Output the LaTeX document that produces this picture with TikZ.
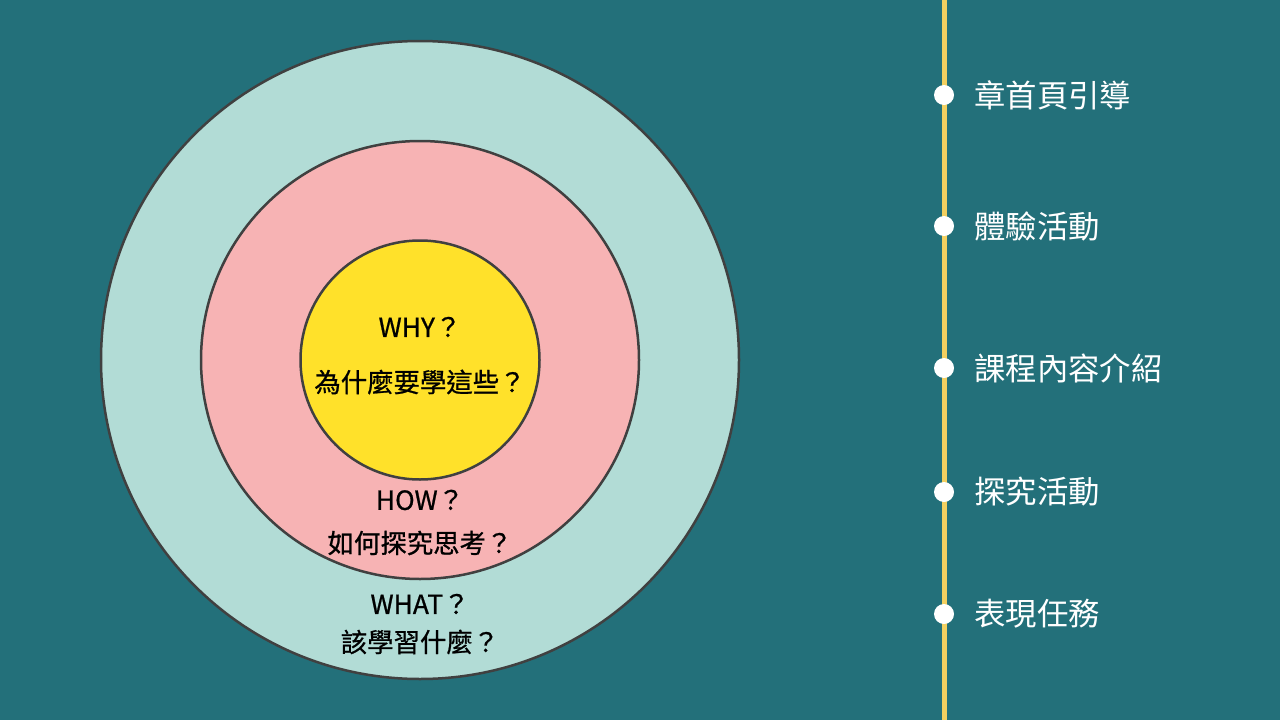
\documentclass[tikz,border=0pt]{standalone}
\usepackage{fontspec}
\setmainfont{Noto Sans CJK TC}
\newfontfamily\lblfont[FakeBold=0.8]{Noto Sans CJK TC}
\definecolor{bg}{HTML}{23707A}
\definecolor{outerc}{HTML}{B2DCD6}
\definecolor{midc}{HTML}{F7B3B4}
\definecolor{innc}{HTML}{FFE12A}
\definecolor{edgec}{HTML}{404040}
\definecolor{linec}{HTML}{F3D060}
\tikzset{
  ring/.style={circle, draw=edgec, line width=2.5pt, inner sep=0pt},
  lbl/.style={font=\lblfont\fontsize{26.4}{30}\selectfont, text=black, inner sep=0pt},
  item/.style={font=\fontsize{31.4}{36}\selectfont, text=white, anchor=west, inner sep=0pt},
  dot/.style={circle, fill=white, minimum size=20pt, inner sep=0pt},
}
\begin{document}
\begin{tikzpicture}[x=1pt,y=-1pt]
\fill[bg] (0,0) rectangle (1280,720);
\useasboundingbox (0,0) rectangle (1280,720);
\node[ring, fill=outerc, minimum size=638pt] (outer) at (420,360) {};
\node[ring, fill=midc, minimum size=438pt] (mid) at (420,360) {};
\node[ring, fill=innc, minimum size=239pt] (inn) at (420,360) {};
\node[lbl] (why) at (420,327) {WHY？};
\node[lbl] (whyq) at (420,382) {為什麼要學這些？};
\node[lbl] (how) at (420,500) {HOW？};
\node[lbl] (howq) at (420,543) {如何探究思考？};
\node[lbl] (what) at (420,604) {WHAT？};
\node[lbl] (whatq) at (420,642) {該學習什麼？};
\coordinate (ltop) at (944,0);
\coordinate (lbot) at (944,720);
\draw[linec, line width=5pt] (ltop) -- (lbot);
\node[dot] (d1) at (944,95) {};
\node[dot] (d2) at (944,226) {};
\node[dot] (d3) at (944,368) {};
\node[dot] (d4) at (944,492) {};
\node[dot] (d5) at (944,614) {};
\node[item] (t1) at (974,95) {章首頁引導};
\node[item] (t2) at (974,226) {體驗活動};
\node[item] (t3) at (974,368) {課程內容介紹};
\node[item] (t4) at (974,492) {探究活動};
\node[item] (t5) at (974,614) {表現任務};
\end{tikzpicture}
\end{document}
